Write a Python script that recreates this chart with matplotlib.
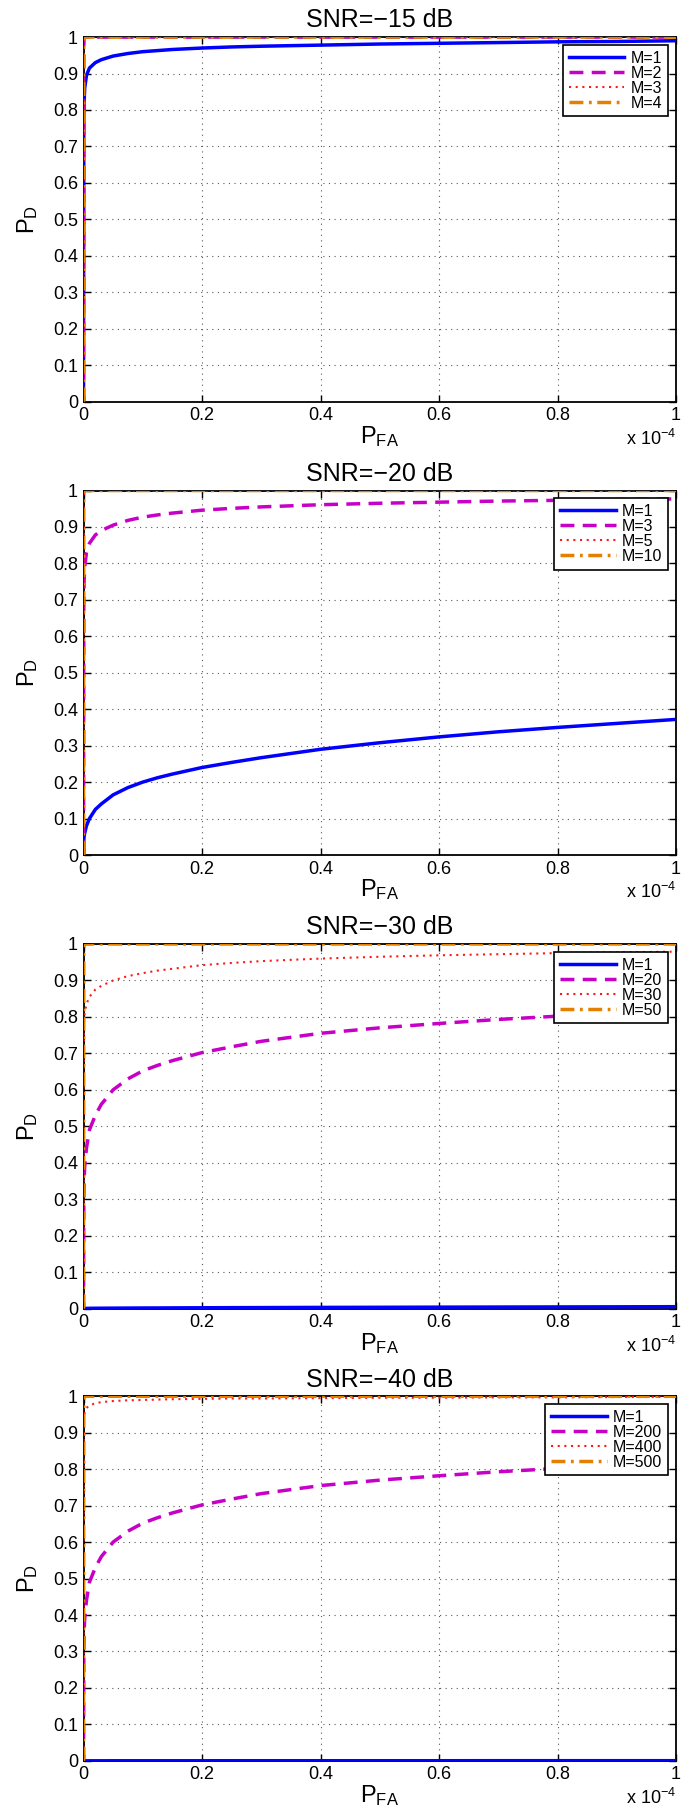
import numpy as np
import matplotlib
matplotlib.use("Agg")
import matplotlib.pyplot as plt

plt.rcParams['font.family'] = ['Liberation Sans', 'DejaVu Sans']
plt.rcParams['mathtext.fontset'] = 'custom'
plt.rcParams['mathtext.rm'] = 'Liberation Sans'
plt.rcParams['mathtext.it'] = 'Liberation Sans:italic'
plt.rcParams['mathtext.bf'] = 'Liberation Sans:bold'

# P_FA sample points (in units of 1e-4)
pfa = [0, 0.0005, 0.001, 0.002, 0.005, 0.01, 0.02, 0.03, 0.05, 0.075, 0.1, 0.125,
       0.15, 0.2, 0.25, 0.3, 0.4, 0.5, 0.6, 0.7, 0.8, 0.9, 1.0]

ones = [0] + [1.0] * 22

# SNR = -15 dB
snr15_labels = ["M=1", "M=2", "M=3", "M=4"]
snr15_m1 = [0, 0.78, 0.82, 0.86, 0.895, 0.915, 0.93, 0.938, 0.948, 0.955, 0.96, 0.963,
            0.966, 0.97, 0.973, 0.975, 0.978, 0.981, 0.983, 0.985, 0.987, 0.988, 0.99]
snr15_m2 = ones
snr15_m3 = ones
snr15_m4 = ones

# SNR = -20 dB
snr20_labels = ["M=1", "M=3", "M=5", "M=10"]
snr20_m1 = [0, 0.04, 0.05, 0.06, 0.08, 0.1, 0.125, 0.14, 0.165, 0.185, 0.2, 0.212,
            0.222, 0.24, 0.254, 0.267, 0.29, 0.308, 0.324, 0.338, 0.35, 0.361, 0.372]
snr20_m3 = [0, 0.7, 0.75, 0.79, 0.83, 0.855, 0.878, 0.89, 0.905, 0.918, 0.927, 0.933,
            0.938, 0.946, 0.951, 0.955, 0.961, 0.965, 0.968, 0.971, 0.973, 0.975, 0.977]
snr20_m5 = ones
snr20_m10 = ones

# SNR = -30 dB
snr30_labels = ["M=1", "M=20", "M=30", "M=50"]
snr30_m1 = [0, 0.0001, 0.0001, 0.0002, 0.0003, 0.0005, 0.0007, 0.0008, 0.001, 0.0012, 0.0014, 0.0015,
            0.0017, 0.002, 0.0023, 0.0025, 0.003, 0.0033, 0.0037, 0.004, 0.0043, 0.0046, 0.005]
snr30_m20 = [0, 0.3, 0.35, 0.39, 0.44, 0.49, 0.53, 0.56, 0.60, 0.63, 0.652, 0.667,
             0.68, 0.702, 0.718, 0.733, 0.755, 0.77, 0.782, 0.793, 0.802, 0.81, 0.817]
snr30_m30 = [0, 0.76, 0.79, 0.81, 0.835, 0.855, 0.875, 0.885, 0.9, 0.912, 0.92, 0.927,
             0.932, 0.942, 0.948, 0.953, 0.96, 0.965, 0.969, 0.972, 0.975, 0.977, 0.979]
snr30_m50 = ones

# SNR = -40 dB
snr40_labels = ["M=1", "M=200", "M=400", "M=500"]
snr40_m1 = [0, 0.0, 0.0, 0.0, 0.0, 0.0, 0.0, 0.0, 0.0001, 0.0001, 0.0001, 0.0001,
            0.0001, 0.0001, 0.0002, 0.0002, 0.0002, 0.0002, 0.0002, 0.0003, 0.0003, 0.0003, 0.0003]
snr40_m200 = [0, 0.3, 0.35, 0.39, 0.44, 0.49, 0.53, 0.56, 0.60, 0.63, 0.652, 0.667,
              0.68, 0.702, 0.718, 0.733, 0.755, 0.77, 0.782, 0.793, 0.802, 0.81, 0.817]
snr40_m400 = [0, 0.93, 0.945, 0.955, 0.968, 0.975, 0.981, 0.984, 0.987, 0.989, 0.99, 0.991,
              0.992, 0.993, 0.994, 0.994, 0.995, 0.996, 0.996, 0.997, 0.997, 0.998, 0.998]
snr40_m500 = ones

titles = ["SNR=\u221215 dB", "SNR=\u221220 dB", "SNR=\u221230 dB", "SNR=\u221240 dB"]
panels = [
    (snr15_labels, [snr15_m1, snr15_m2, snr15_m3, snr15_m4]),
    (snr20_labels, [snr20_m1, snr20_m3, snr20_m5, snr20_m10]),
    (snr30_labels, [snr30_m1, snr30_m20, snr30_m30, snr30_m50]),
    (snr40_labels, [snr40_m1, snr40_m200, snr40_m400, snr40_m500]),
]

styles = [
    dict(color=(0, 0, 1), ls='-', lw=2.5),
    dict(color=(0.78, 0, 0.78), ls=(0, (4, 2.4)), lw=2.5),
    dict(color=(1, 0.1, 0.1), ls=(0, (1, 2.2)), lw=1.5),
    dict(color=(0.89, 0.5, 0.0), ls=(0, (4, 1.6, 0.8, 1.6)), lw=2.5),
]

W, H = 691, 1814
fig = plt.figure(figsize=(W / 100, H / 100), dpi=100)

left = 83.5 / W
width = (676 - 83.5) / W
height = 364.5 / H
bottoms_px = [401.6, 855.0, 1308.5, 1760.8]

xticks = [0, 0.2, 0.4, 0.6, 0.8, 1.0]
yticks = [0, 0.1, 0.2, 0.3, 0.4, 0.5, 0.6, 0.7, 0.8, 0.9, 1.0]

for i, (title, (labels, series)) in enumerate(zip(titles, panels)):
    ax = fig.add_axes([left, 1 - bottoms_px[i] / H, width, height])
    for lab, ys, st in zip(labels, series, styles):
        ax.plot(pfa, ys, label=lab, zorder=3, **st)
    ax.set_xlim(0, 1)
    ax.set_ylim(0, 1)
    ax.set_xticks(xticks)
    ax.set_yticks(yticks)
    ax.set_xticklabels([f"{v:g}" for v in xticks])
    ax.set_yticklabels([f"{v:g}" for v in yticks])
    ax.tick_params(direction='in', top=True, right=True, length=5, width=1,
                   labelsize=13, pad=4)
    for sp in ax.spines.values():
        sp.set_linewidth(1.3)
        sp.set_color('black')
        sp.set_zorder(2.5)
    ax.grid(True, color='0.35', linestyle=(0, (1, 4)), linewidth=0.8)
    ax.set_axisbelow(True)
    ax.set_title(title, fontsize=18, pad=7)
    ax.set_xlabel(r"$\mathrm{P}_{\mathrm{FA}}$", fontsize=17, labelpad=0)
    ax.set_ylabel(r"$\mathrm{P}_{\mathrm{D}}$", fontsize=17, labelpad=9)
    ax.text(1.0, -0.075, r"x 10$^{-4}$", transform=ax.transAxes, ha='right',
            va='top', fontsize=13)
    leg = ax.legend(loc='upper right', fontsize=11.5, frameon=True, fancybox=False,
                    edgecolor='black', framealpha=1, handlelength=3.5,
                    handletextpad=0.4, labelspacing=0.0, borderpad=0.35,
                    borderaxespad=0.5)
    leg.get_frame().set_linewidth(1.2)
    leg.set_zorder(5)

fig.savefig("out.png", dpi=100)
